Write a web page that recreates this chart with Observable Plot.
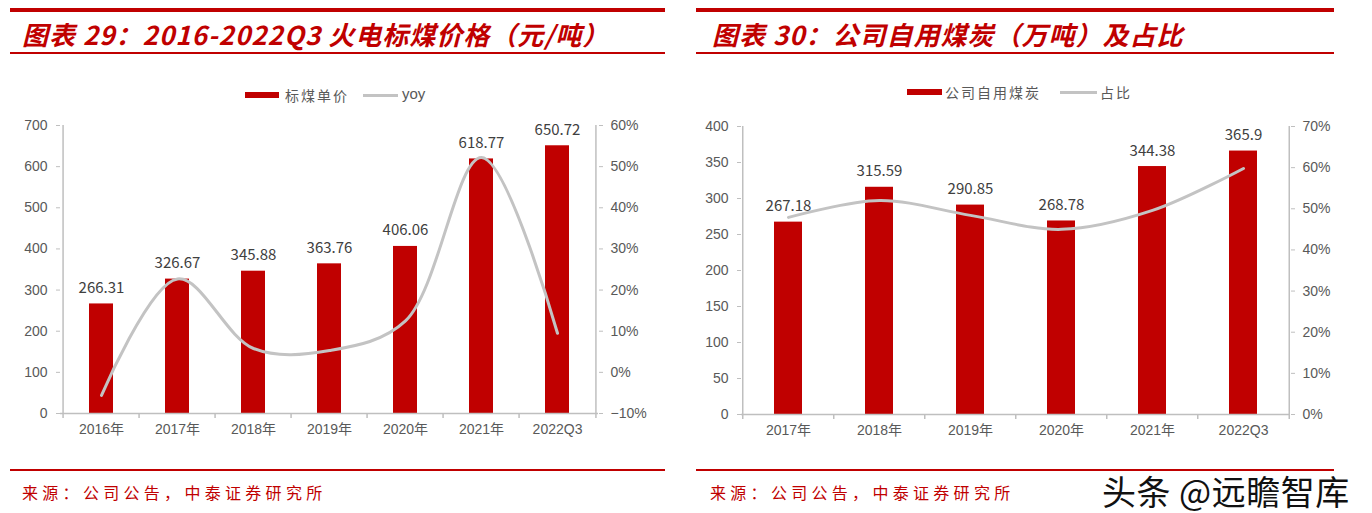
<!DOCTYPE html>
<html><head><meta charset="utf-8">
<script src="https://cdn.jsdelivr.net/npm/d3@7"></script>
<script src="https://cdn.jsdelivr.net/npm/@observablehq/plot@0.6"></script>
<style>
html,body{margin:0;padding:0;background:#fff;}
body{width:1372px;height:513px;position:relative;overflow:hidden;font-family:"Liberation Sans","Noto Sans CJK SC",sans-serif;}
.abs{position:absolute;}
.thick{position:absolute;height:4px;background:#C00000;}
.thin{position:absolute;height:2px;background:#C00000;}
.title{position:absolute;color:#C00000;font-family:"Noto Sans CJK SC",sans-serif;font-weight:bold;font-style:italic;font-size:26px;line-height:30px;letter-spacing:1px;white-space:nowrap;}
.source{position:absolute;color:#C00000;font-family:"Noto Sans CJK SC",sans-serif;font-size:16px;line-height:20px;letter-spacing:4.3px;white-space:nowrap;}
.legtxt{position:absolute;color:#595959;font-family:"Noto Sans CJK SC",sans-serif;font-size:14px;line-height:18px;letter-spacing:2px;white-space:nowrap;}
.chart{position:absolute;}
.chart svg{position:absolute;left:0;top:0;}
.wm{position:absolute;font-family:"Noto Sans CJK SC",sans-serif;font-size:34px;line-height:38px;color:#111;letter-spacing:0.5px;white-space:nowrap;
  text-shadow:-2px 0 #fff,2px 0 #fff,0 -2px #fff,0 2px #fff,-2px -2px #fff,2px 2px #fff,-2px 2px #fff,2px -2px #fff;}
</style>
</head><body>
<script>
// ---------- data: chart 29 ----------
const priceCats = ["2016年","2017年","2018年","2019年","2020年","2021年","2022Q3"];
const priceValues = [266.31, 326.67, 345.88, 363.76, 406.06, 618.77, 650.72];
const priceYoy = [-5.6, 22.7, 5.8, 5.3, 12.5, 52.2, 9.5];
const priceLeftTicks = [0,100,200,300,400,500,600,700];
const priceRightTicks = [-10,0,10,20,30,40,50,60];

// ---------- data: chart 30 ----------
const coalCats = ["2017年","2018年","2019年","2020年","2021年","2022Q3"];
const coalValues = [267.18, 315.59, 290.85, 268.78, 344.38, 365.9];
const coalShare = [47.9, 52.0, 48.4, 45.0, 49.6, 59.8];
const coalLeftTicks = [0,50,100,150,200,250,300,350,400];
const coalRightTicks = [0,10,20,30,40,50,60,70];

const RED = "#C00000", GRAY = "#BFBFBF", LINE = "#C3C3C3", TXT = "#595959";
const FONT = '"Liberation Sans","Noto Sans CJK SC",sans-serif';

function el(cls, style, text) {
  const d = document.createElement("div");
  d.className = cls;
  Object.assign(d.style, style);
  if (text != null) d.textContent = text;
  document.body.appendChild(d);
  return d;
}

function makeChart(cfg) {
  const {left, top, width, height, ml, mr, mt, mb, cats, values, line, yDomain, y2Domain, yTicks, y2Ticks} = cfg;
  const step = (width - ml - mr) / cats.length;
  const bars = cats.map((c, i) => ({cat: c, value: values[i], line: line[i]}));
  const xOpt = {domain: cats, paddingInner: 0.69, paddingOuter: 0.345, axis: null};
  const common = {width, height, marginLeft: ml, marginRight: mr, marginTop: mt, marginBottom: mb,
    style: {background: "transparent", fontFamily: FONT, fontSize: "14px", color: TXT, overflow: "visible"}};
  const tickLenY = (yDomain[1] - yDomain[0]) / (height - mt - mb) * 5;

  const p1 = Plot.plot({
    ...common,
    x: xOpt,
    y: {domain: yDomain, axis: null},
    marks: [
      Plot.barY(bars, {x: "cat", y: "value", fill: RED}),
      Plot.ruleY([yDomain[0]], {stroke: GRAY, strokeWidth: 1.5}),
      Plot.ruleX([cats[0]], {x: d => d, dx: -step / 2, y1: yDomain[0], y2: yDomain[1], stroke: GRAY, strokeWidth: 1.5}),
      Plot.ruleX(cats, {x: d => d, dx: -step / 2, y1: yDomain[0], y2: yDomain[0] - tickLenY, stroke: GRAY, strokeWidth: 1.5}),
      Plot.ruleX([cats[cats.length - 1]], {x: d => d, dx: step / 2, y1: yDomain[0], y2: yDomain[0] - tickLenY, stroke: GRAY, strokeWidth: 1.5}),
      Plot.axisY(yTicks, {anchor: "left", tickSize: 4, tickPadding: 9, stroke: GRAY, fill: TXT, fontSize: 14, label: null}),
      Plot.axisX({tickSize: 0, tickPadding: 11, fill: TXT, fontSize: 14, label: null}),
      Plot.text(bars, {x: "cat", y: "value", text: d => String(d.value), lineAnchor: "bottom", dy: -11,
        fill: "#404040", fontSize: 15, fontFamily: '"Noto Sans CJK SC",sans-serif'})
    ]
  });
  const p2 = Plot.plot({
    ...common,
    x: xOpt,
    y: {domain: y2Domain, axis: null},
    marks: [
      Plot.line(bars, {x: "cat", y: "line", curve: "catmull-rom", stroke: LINE, strokeWidth: 3}),
      Plot.ruleX([cats[cats.length - 1]], {x: d => d, dx: step / 2, y1: y2Domain[0], y2: y2Domain[1], stroke: GRAY, strokeWidth: 1.5}),
      Plot.axisY(y2Ticks, {anchor: "right", tickSize: 4, tickPadding: 8, stroke: GRAY, fill: TXT, fontSize: 14, label: null,
        tickFormat: d => (d < 0 ? "−" + (-d) : d) + "%"})
    ]
  });
  const box = el("chart", {left: left + "px", top: top + "px", width: width + "px", height: height + "px"});
  box.appendChild(p1);
  box.appendChild(p2);
}

// ----- panel frames -----
el("thick", {left: "10px", top: "8px", width: "655px"});
el("thin", {left: "10px", top: "52px", width: "655px"});
el("thin", {left: "10px", top: "469px", width: "655px"});
el("thick", {left: "696px", top: "8px", width: "638px"});
el("thin", {left: "696px", top: "52px", width: "638px"});
el("thin", {left: "696px", top: "469px", width: "638px"});

el("title", {left: "22px", top: "19px"}, "图表 29：2016-2022Q3 火电标煤价格（元/吨）");
el("title", {left: "712px", top: "19px"}, "图表 30：公司自用煤炭（万吨）及占比");

el("source", {left: "22px", top: "482px"}, "来源：公司公告，中泰证券研究所");
el("source", {left: "710px", top: "482px"}, "来源：公司公告，中泰证券研究所");

// ----- legends -----
el("abs", {left: "245px", top: "92px", width: "34px", height: "6px", background: RED});
el("legtxt", {left: "285px", top: "86px"}, "标煤单价");
el("abs", {left: "363px", top: "94px", width: "35px", height: "3px", background: LINE});
el("legtxt", {left: "402px", top: "85px", letterSpacing: "0px", fontFamily: '"Liberation Sans",sans-serif', fontSize: "15px"}, "yoy");

el("abs", {left: "907px", top: "89px", width: "35px", height: "6px", background: RED});
el("legtxt", {left: "945px", top: "83px"}, "公司自用煤炭");
el("abs", {left: "1060px", top: "91px", width: "37px", height: "3px", background: LINE});
el("legtxt", {left: "1100px", top: "83px"}, "占比");

// ----- charts -----
makeChart({left: 0, top: 110, width: 665, height: 340, ml: 60, mr: 67, mt: 15, mb: 37,
  cats: priceCats, values: priceValues, line: priceYoy,
  yDomain: [0, 700], y2Domain: [-10, 60], yTicks: priceLeftTicks, y2Ticks: priceRightTicks});
makeChart({left: 686, top: 110, width: 648, height: 340, ml: 55, mr: 44, mt: 16, mb: 36,
  cats: coalCats, values: coalValues, line: coalShare,
  yDomain: [0, 400], y2Domain: [0, 70], yTicks: coalLeftTicks, y2Ticks: coalRightTicks});

el("wm", {left: "1102px", top: "472px"}, "头条 @远瞻智库");
</script>
</body></html>
